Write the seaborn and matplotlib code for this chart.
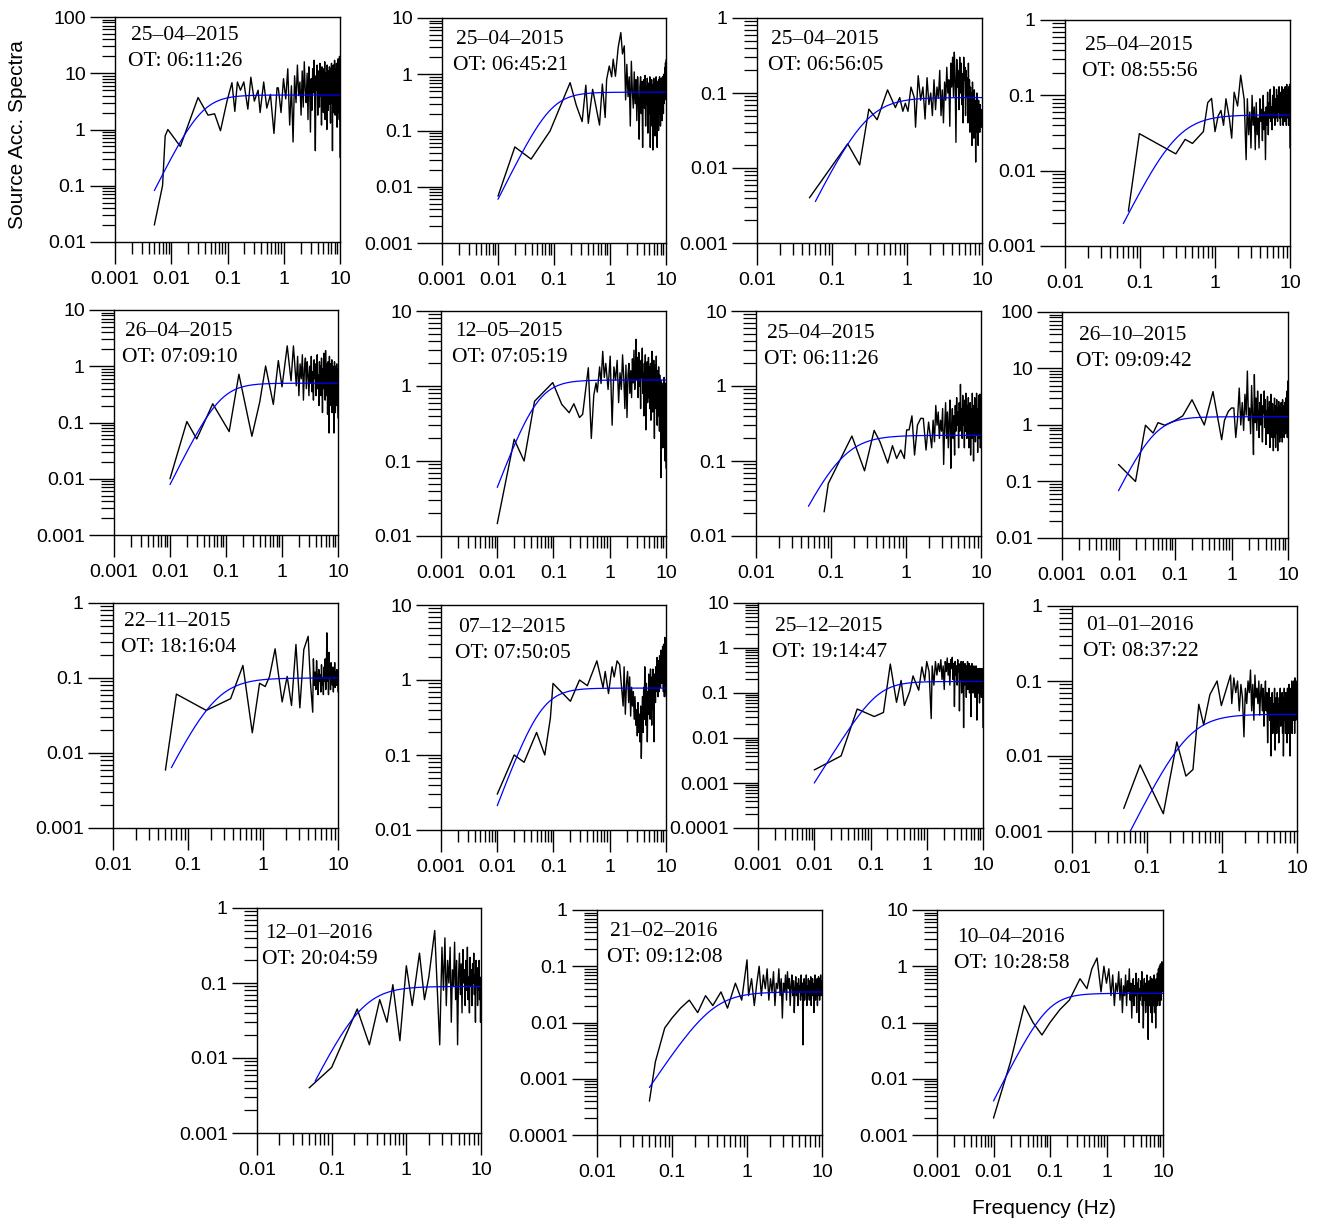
import numpy as np
import pandas as pd
import matplotlib
matplotlib.use("Agg")
import matplotlib.pyplot as plt
import seaborn as sns
from matplotlib.ticker import LogLocator, FuncFormatter, NullFormatter

sns.set_theme(style="ticks")
plt.rcParams["font.family"] = ["Liberation Sans", "DejaVu Sans"]
plt.rcParams["axes.edgecolor"] = "black"
plt.rcParams["axes.linewidth"] = 1.0
plt.rcParams["xtick.color"] = "black"
plt.rcParams["ytick.color"] = "black"
plt.rcParams["xtick.labelcolor"] = "black"
plt.rcParams["ytick.labelcolor"] = "black"
plt.rcParams["text.color"] = "black"
plt.rcParams["axes.labelcolor"] = "black"

# ---------------------------------------------------------------------------
# Event labels (date, origin time)
# ---------------------------------------------------------------------------
event_dates = ["25–04–2015", "25–04–2015", "25–04–2015", "25–04–2015",
               "26–04–2015", "12–05–2015", "25–04–2015", "26–10–2015",
               "22–11–2015", "07–12–2015", "25–12–2015", "01–01–2016",
               "12–01–2016", "21–02–2016", "10–04–2016"]
origin_times = ["06:11:26", "06:45:21", "06:56:05", "08:55:56",
                "07:09:10", "07:05:19", "06:11:26", "09:09:42",
                "18:16:04", "07:50:05", "19:14:47", "08:37:22",
                "20:04:59", "09:12:08", "10:28:58"]

# Fitted omega-square source model: high-frequency plateau and corner frequency (Hz)
plateau_levels = [4.1, 0.48, 0.087, 0.055, 0.5, 1.2, 0.22, 1.4,
                  0.1, 0.78, 0.18, 0.036, 0.09, 0.035, 0.33]
corner_freqs = [0.035, 0.089, 0.29, 0.31, 0.079, 0.051, 0.14, 0.044,
                0.23, 0.06, 0.134, 0.355, 0.25, 0.35, 0.09]
model_fmin = [0.005, 0.01, 0.06, 0.06, 0.01, 0.01, 0.05, 0.01,
              0.06, 0.01, 0.01, 0.06, 0.06, 0.05, 0.01]

# Axis ranges
x_ranges = [(1e-3, 10), (1e-3, 10), (1e-2, 10), (1e-2, 10),
            (1e-3, 10), (1e-3, 10), (1e-2, 10), (1e-3, 10),
            (1e-2, 10), (1e-3, 10), (1e-3, 10), (1e-2, 10),
            (1e-2, 10), (1e-2, 10), (1e-3, 10)]
y_ranges = [(1e-2, 100), (1e-3, 10), (1e-3, 1), (1e-3, 1),
            (1e-3, 10), (1e-2, 10), (1e-2, 10), (1e-2, 100),
            (1e-3, 1), (1e-2, 10), (1e-4, 10), (1e-3, 1),
            (1e-3, 1), (1e-4, 1), (1e-3, 10)]

# ---------------------------------------------------------------------------
# Observed source acceleration spectra.
# Low-frequency samples are (freq, amp) pairs; the high-frequency band is
# sampled on a uniform frequency grid from *_tail_f0 up to 10 Hz.
# ---------------------------------------------------------------------------
s01_f = [0.005, 0.007, 0.0078, 0.0087, 0.0145, 0.03, 0.045, 0.059, 0.075, 0.098, 0.12, 0.135,
         0.15, 0.17, 0.195, 0.23, 0.26, 0.3, 0.35, 0.38, 0.44, 0.5, 0.58, 0.67, 0.76]
s01_a = [0.02, 0.1, 0.77, 1.0, 0.5, 3.7, 1.8, 1.9, 0.95, 3.2, 6.8, 2.1,
         7.0, 5.0, 7.0, 2.3, 8.5, 3.2, 5.0, 2.0, 7.0, 2.4, 4.2, 0.85, 5.5]
s01_tail_f0 = 0.8
s01_tail = [5.5, 2.0, 8.0, 3.5, 12, 1.2, 6, 0.6, 9, 3, 14, 4, 7, 1.8, 11, 2.5, 16, 5, 3, 10,
            1.5, 13, 6, 0.9, 8, 2.2, 12, 4.5, 17, 3, 0.42, 9, 5, 14, 1.8, 11, 6, 2.5, 15, 4,
            9, 1.2, 13, 3, 7, 2, 12, 5, 16, 1.5, 10, 3.5, 8, 1, 14, 4, 11, 2.2, 9, 6,
            13, 2.8, 7, 1.3, 12, 4, 15, 3, 8, 0.42, 10, 5, 14, 2, 11, 3.5, 17, 6, 1.8, 12,
            4, 9, 2.5, 15, 5, 1.1, 13, 7, 3, 18, 2, 10, 4, 14, 1.5, 20, 6, 0.32]

s02_f = [0.01, 0.02, 0.039, 0.085, 0.194, 0.25, 0.318, 0.37, 0.41, 0.49, 0.56, 0.65,
         0.73, 0.82, 0.87, 0.97, 1.07, 1.14, 1.25, 1.4, 1.56, 1.67, 1.8, 1.9]
s02_a = [0.0068, 0.051, 0.031, 0.098, 0.71, 0.28, 0.144, 0.64, 0.134, 0.54, 0.27, 0.125,
         0.67, 0.17, 0.8, 1.4, 0.9, 1.85, 0.92, 3.0, 5.5, 2.3, 3.2, 0.35]
s02_tail_f0 = 2.0
s02_tail = [1.5, 0.4, 0.9, 0.12, 1.7, 0.5, 0.25, 1.1, 0.3, 0.8, 0.15, 0.9, 0.35, 0.07, 0.6, 0.9,
            0.2, 0.75, 0.05, 0.5, 0.8, 0.25, 0.95, 0.12, 0.6, 0.3, 0.85, 0.09, 0.45, 0.7, 0.2, 0.9,
            0.05, 0.55, 0.3, 0.8, 0.12, 0.65, 0.045, 0.4, 0.85, 0.2, 0.6, 0.08, 0.7, 0.3, 0.9, 0.15,
            0.5, 0.05, 0.75, 0.25, 0.6, 0.1, 0.8, 0.35, 0.9, 0.2, 0.5, 0.12, 0.7, 0.3, 0.85, 0.25,
            0.6, 0.15, 0.9, 0.4, 0.7, 0.2, 1.0, 0.3, 0.8, 0.5, 1.3, 0.35, 0.9, 1.6, 0.6, 1.8]

s03_f = [0.05, 0.162, 0.234, 0.31, 0.4, 0.55, 0.7, 0.8, 0.88, 0.95, 1.03, 1.13, 1.25]
s03_a = [0.004, 0.021, 0.011, 0.061, 0.044, 0.11, 0.064, 0.087, 0.057, 0.073, 0.057, 0.12, 0.087]
s03_tail_f0 = 1.3
s03_tail = [0.035, 0.17, 0.08, 0.12, 0.045, 0.16, 0.07, 0.1, 0.05, 0.15, 0.06, 0.12, 0.085, 0.2,
            0.05, 0.11, 0.04, 0.14, 0.08, 0.22, 0.1, 0.15, 0.036, 0.25, 0.12, 0.3, 0.09, 0.35,
            0.15, 0.022, 0.28, 0.12, 0.2, 0.06, 0.3, 0.1, 0.25, 0.07, 0.18, 0.04, 0.3, 0.15,
            0.22, 0.05, 0.2, 0.09, 0.16, 0.04, 0.25, 0.07, 0.15, 0.03, 0.12, 0.05, 0.1, 0.02,
            0.14, 0.06, 0.09, 0.025, 0.11, 0.04, 0.08, 0.012, 0.07, 0.03, 0.1, 0.05, 0.065, 0.02,
            0.08, 0.04, 0.06, 0.03, 0.07, 0.045, 0.055, 0.035, 0.06, 0.04]

s04_f = [0.07, 0.098, 0.3, 0.4, 0.5, 0.7, 0.8, 0.9, 1.0, 1.1, 1.2, 1.3, 1.4, 1.55, 1.67, 1.8,
         2.0, 2.2, 2.45, 2.6]
s04_a = [0.0029, 0.031, 0.0167, 0.026, 0.023, 0.033, 0.08, 0.091, 0.033, 0.053, 0.063, 0.04,
         0.09, 0.05, 0.027, 0.11, 0.072, 0.185, 0.088, 0.014]
s04_tail_f0 = 2.7
s04_tail = [0.09, 0.03, 0.06, 0.02, 0.1, 0.04, 0.07, 0.019, 0.08, 0.03, 0.05, 0.02, 0.09, 0.045,
            0.065, 0.025, 0.1, 0.035, 0.06, 0.014, 0.07, 0.04, 0.11, 0.03, 0.08, 0.05, 0.12, 0.045,
            0.07, 0.035, 0.1, 0.05, 0.13, 0.06, 0.04, 0.09, 0.05, 0.12, 0.07, 0.045, 0.1, 0.06,
            0.13, 0.05, 0.08, 0.04, 0.11, 0.07, 0.13, 0.05, 0.09, 0.04, 0.12, 0.06, 0.1, 0.045,
            0.13, 0.07, 0.09, 0.04, 0.14, 0.06, 0.1, 0.05, 0.12, 0.04, 0.13, 0.08, 0.14, 0.02]

s05_f = [0.01, 0.02, 0.03, 0.058, 0.114, 0.17, 0.29, 0.4, 0.51, 0.7, 0.86, 1.0, 1.24, 1.45, 1.6, 1.8]
s05_a = [0.01, 0.104, 0.051, 0.215, 0.069, 0.72, 0.057, 0.23, 1.01, 0.21, 1.26, 0.43, 2.3, 0.55,
         2.3, 0.45]
s05_tail_f0 = 1.9
s05_tail = [1.5, 0.3, 1.1, 0.6, 1.6, 0.25, 0.9, 1.4, 0.4, 1.2, 0.7, 0.3, 1.0, 0.5, 1.5, 0.35,
            0.8, 0.25, 1.3, 0.6, 1.1, 0.3, 0.9, 1.6, 0.4, 0.7, 0.2, 1.2, 0.5, 1.0, 0.3, 1.4,
            0.6, 0.15, 0.9, 0.4, 1.7, 0.5, 0.8, 0.25, 1.9, 0.6, 1.1, 0.3, 0.7, 0.14, 1.2, 0.45,
            0.9, 0.065, 1.5, 0.5, 0.3, 1.1, 0.2, 0.8, 0.4, 1.3, 0.15, 0.7, 0.35, 1.0, 0.25, 0.9,
            0.065, 0.6, 1.2, 0.3, 0.8, 0.15, 1.0, 0.4, 0.7, 0.2, 1.1, 0.3, 0.9, 0.5, 0.2, 0.12]

s06_f = [0.01, 0.02, 0.03, 0.046, 0.097, 0.14, 0.19, 0.23, 0.29, 0.33, 0.416, 0.47, 0.52, 0.57,
         0.6, 0.66, 0.7, 0.75, 0.8]
s06_a = [0.0146, 0.195, 0.1, 0.625, 1.11, 0.57, 0.44, 0.58, 0.38, 0.42, 1.75, 0.2, 0.75, 1.1,
         0.83, 1.8, 1.08, 2.9, 1.3]
s06_tail_f0 = 0.85
s06_tail = [2.0, 0.9, 2.5, 0.3, 1.8, 1.2, 2.2, 0.6, 1.5, 0.9, 2.6, 1.3, 0.5, 1.9, 0.38, 1.4,
            2.0, 0.8, 1.6, 0.7, 2.3, 1.1, 3.0, 0.9, 1.7, 4.2, 1.2, 2.4, 0.7, 2.8, 1.0, 1.8,
            0.5, 2.2, 1.3, 3.2, 0.8, 1.5, 0.4, 2.0, 1.1, 2.6, 0.26, 1.6, 0.9, 2.1, 0.6, 1.3,
            2.4, 0.7, 1.8, 0.5, 1.2, 2.0, 0.35, 1.5, 0.8, 2.9, 1.0, 0.45, 1.7, 0.6, 2.2, 0.9,
            0.2, 1.4, 0.7, 1.9, 0.5, 1.1, 2.5, 0.6, 1.3, 0.3, 1.6, 0.8, 1.2, 0.4, 1.8, 0.6,
            1.0, 0.25, 1.4, 0.5, 0.9, 0.3, 1.2, 0.06, 0.8, 0.4, 1.1, 0.25, 0.7, 0.15, 1.0, 0.35,
            0.6, 0.2, 0.9, 0.3, 1.3, 0.15, 0.7, 0.4, 1.1, 0.1, 0.6, 0.2, 0.3, 0.08]

s07_f = [0.081, 0.092, 0.19, 0.28, 0.376, 0.45, 0.57, 0.66, 0.75, 0.85, 0.95, 1.02, 1.1, 1.2,
         1.3, 1.42, 1.57, 1.7, 1.85, 2.0, 2.2]
s07_a = [0.021, 0.05, 0.215, 0.074, 0.256, 0.18, 0.094, 0.16, 0.108, 0.14, 0.108, 0.26, 0.26,
         0.4, 0.12, 0.3, 0.37, 0.37, 0.14, 0.33, 0.15]
s07_tail_f0 = 2.3
s07_tail = [0.35, 0.18, 0.55, 0.3, 0.45, 0.2, 0.35, 0.25, 0.5, 0.09, 0.28, 0.6, 0.2, 0.45, 0.15,
            0.35, 0.65, 0.08, 0.3, 0.5, 0.2, 0.4, 0.12, 0.55, 0.25, 0.7, 0.3, 0.45, 0.15, 0.6,
            0.25, 1.05, 0.35, 0.5, 0.2, 0.75, 0.3, 0.55, 0.15, 0.65, 0.25, 0.8, 0.4, 0.2, 0.55,
            0.3, 0.7, 0.15, 0.45, 0.25, 0.6, 0.12, 0.35, 0.5, 0.2, 0.8, 0.3, 0.45, 0.1, 0.55,
            0.25, 0.7, 0.35, 0.18, 0.6, 0.22, 0.8, 0.3, 0.5, 0.13, 0.45, 0.25, 0.75, 0.2, 0.5,
            0.3, 0.78, 0.15, 0.4, 0.2]

s08_f = [0.01, 0.02, 0.03, 0.041, 0.05, 0.066, 0.1, 0.137, 0.2, 0.33, 0.47, 0.67, 0.75, 0.88, 1.0]
s08_a = [0.2, 0.1, 0.99, 0.72, 1.1, 0.99, 1.2, 1.45, 2.8, 1.0, 3.9, 0.55, 1.2, 1.75, 2.0]
s08_tail_f0 = 1.1
s08_tail = [2.0, 0.6, 1.3, 4.5, 1.0, 2.5, 0.8, 3.5, 1.5, 9.0, 1.2, 2.0, 0.7, 5.0, 1.5, 0.3,
            7.8, 1.1, 3.0, 0.8, 4.0, 1.4, 0.6, 2.5, 1.0, 3.5, 1.2, 0.5, 2.2, 1.6, 4.0, 0.9,
            2.8, 0.45, 1.8, 1.1, 3.2, 0.7, 2.0, 0.9, 2.6, 0.4, 1.5, 3.5, 0.8, 1.9, 0.6, 2.4,
            1.2, 0.35, 1.7, 0.9, 3.0, 0.6, 1.4, 0.4, 2.2, 1.0, 2.8, 0.7, 1.6, 0.35, 2.0, 1.1,
            2.6, 0.8, 1.5, 0.5, 2.2, 1.0, 1.8, 0.6, 2.5, 1.2, 0.8, 1.9, 0.5, 2.8, 1.0, 1.6,
            0.7, 2.2, 1.3, 0.6, 1.8, 0.9, 2.5, 1.1, 0.7, 3.0, 1.2, 1.9, 0.8, 2.3, 1.0, 4.0,
            0.6, 2.0, 6.0, 0.7]

s09_f = [0.05, 0.07, 0.175, 0.37, 0.54, 0.72, 0.9, 1.07, 1.22, 1.45, 1.8, 2.1, 2.4, 2.75, 3.1,
         3.5, 4.0, 4.3, 4.6]
s09_a = [0.0059, 0.061, 0.037, 0.053, 0.147, 0.0186, 0.085, 0.077, 0.104, 0.245, 0.048, 0.105,
         0.043, 0.28, 0.04, 0.24, 0.36, 0.085, 0.035]
s09_tail_f0 = 4.7
s09_tail = [0.18, 0.08, 0.12, 0.07, 0.17, 0.1, 0.06, 0.13, 0.09, 0.11, 0.065, 0.15, 0.08, 0.1,
            0.06, 0.14, 0.09, 0.18, 0.07, 0.12, 0.4, 0.09, 0.15, 0.06, 0.22, 0.1, 0.13, 0.07,
            0.16, 0.09, 0.12, 0.08, 0.14, 0.065, 0.11, 0.09, 0.16, 0.075, 0.12, 0.1, 0.08, 0.13,
            0.09, 0.11, 0.065]

s10_f = [0.01, 0.02, 0.03, 0.05, 0.07, 0.088, 0.098, 0.2, 0.29, 0.4, 0.59, 0.76, 0.83, 0.95,
         1.1, 1.2, 1.35, 1.5, 1.73]
s10_a = [0.03, 0.1, 0.08, 0.2, 0.1, 0.31, 0.9, 0.52, 1.0, 0.84, 1.8, 0.79, 1.3, 0.66, 1.5, 1.1,
         1.8, 1.6, 0.45]
s10_tail_f0 = 1.8
s10_tail = [1.5, 0.35, 0.9, 1.3, 0.5, 1.1, 0.33, 0.8, 0.45, 0.7, 0.3, 0.6, 0.25, 0.4, 0.18, 0.5,
            0.2, 0.35, 0.15, 0.45, 0.09, 0.3, 0.6, 0.2, 0.8, 0.3, 1.5, 0.4, 0.25, 0.9, 0.5, 0.15,
            0.7, 0.35, 1.2, 0.45, 0.8, 0.3, 1.4, 0.5, 0.9, 0.25, 1.1, 0.6, 1.4, 0.4, 0.8, 0.15,
            1.2, 0.6, 1.0, 0.5, 1.5, 0.7, 1.2, 0.9, 2.0, 0.8, 1.3, 0.6, 1.8, 1.0, 1.5, 0.7,
            2.1, 1.1, 1.7, 0.8, 1.4, 2.5, 1.0, 1.8, 0.9, 2.0, 1.3, 2.8, 1.0, 1.6, 0.7, 3.0,
            1.2, 2.2, 0.6, 1.8, 3.7, 1.1, 2.5, 0.7, 3.0, 0.6]

s11_f = [0.01, 0.03, 0.058, 0.117, 0.17, 0.225, 0.29, 0.35, 0.4, 0.5, 0.57, 0.72, 0.82, 0.92,
         1.0, 1.1, 1.2]
s11_a = [0.00195, 0.004, 0.044, 0.03, 0.037, 0.44, 0.062, 0.19, 0.053, 0.11, 0.24, 0.115, 0.38,
         0.19, 0.5, 0.3, 0.027]
s11_tail_f0 = 1.25
s11_tail = [0.4, 0.15, 0.5, 0.25, 0.45, 0.3, 0.55, 0.2, 0.4, 0.12, 0.5, 0.3, 0.6, 0.25, 0.45,
            0.15, 0.55, 0.35, 0.62, 0.2, 0.45, 0.05, 0.5, 0.25, 0.4, 0.15, 0.55, 0.3, 0.45, 0.04,
            0.35, 0.2, 0.5, 0.1, 0.4, 0.25, 0.5, 0.017, 0.3, 0.15, 0.45, 0.2, 0.35, 0.08, 0.4,
            0.25, 0.5, 0.12, 0.3, 0.2, 0.45, 0.1, 0.35, 0.25, 0.4, 0.03, 0.3, 0.15, 0.45, 0.2,
            0.35, 0.1, 0.3, 0.18, 0.4, 0.12, 0.25, 0.35, 0.08, 0.3, 0.15, 0.4, 0.2, 0.3, 0.025,
            0.25, 0.12, 0.35, 0.18, 0.3, 0.1, 0.28, 0.2, 0.35, 0.06, 0.25, 0.15, 0.3, 0.1, 0.35,
            0.2, 0.27, 0.08, 0.3, 0.15, 0.35, 0.2, 0.25, 0.1, 0.017]

s12_f = [0.049, 0.081, 0.165, 0.25, 0.33, 0.41, 0.49, 0.57, 0.69, 0.86, 0.98, 1.3]
s12_a = [0.002, 0.0076, 0.0017, 0.0154, 0.0054, 0.0066, 0.049, 0.026, 0.066, 0.1, 0.047, 0.12]
s12_tail_f0 = 1.35
s12_tail = [0.05, 0.11, 0.07, 0.1, 0.04, 0.09, 0.06, 0.018, 0.08, 0.05, 0.1, 0.07, 0.14, 0.04,
            0.09, 0.03, 0.12, 0.06, 0.08, 0.05, 0.1, 0.035, 0.07, 0.09, 0.04, 0.08, 0.025, 0.06,
            0.1, 0.04, 0.07, 0.015, 0.05, 0.08, 0.03, 0.06, 0.01, 0.04, 0.07, 0.02, 0.05, 0.035,
            0.08, 0.012, 0.045, 0.06, 0.02, 0.07, 0.03, 0.05, 0.015, 0.06, 0.04, 0.08, 0.025, 0.05,
            0.03, 0.07, 0.02, 0.06, 0.01, 0.04, 0.08, 0.03, 0.06, 0.02, 0.07, 0.04, 0.05, 0.015,
            0.08, 0.03, 0.06, 0.02, 0.09, 0.04, 0.05, 0.01, 0.07, 0.03, 0.08, 0.045, 0.1, 0.02,
            0.06, 0.04, 0.09, 0.03, 0.1, 0.05, 0.07, 0.02, 0.11, 0.04, 0.08, 0.03, 0.1, 0.06,
            0.05, 0.09]

s13_f = [0.05, 0.1, 0.22, 0.32, 0.44, 0.55, 0.66, 0.82, 1.0, 1.2, 1.5, 1.75, 2.0, 2.4, 2.8]
s13_a = [0.004, 0.0075, 0.045, 0.015, 0.06, 0.03, 0.095, 0.017, 0.17, 0.05, 0.25, 0.06, 0.12,
         0.5, 0.015]
s13_tail_f0 = 3.0
s13_tail = [0.3, 0.08, 0.4, 0.05, 0.2, 0.1, 0.3, 0.03, 0.15, 0.09, 0.35, 0.06, 0.2, 0.015, 0.12,
            0.25, 0.07, 0.18, 0.04, 0.28, 0.1, 0.15, 0.05, 0.2, 0.08, 0.3, 0.06, 0.12, 0.04, 0.22,
            0.09, 0.15, 0.05, 0.18, 0.1, 0.25, 0.07, 0.13, 0.03, 0.2, 0.09, 0.16, 0.05, 0.14, 0.08,
            0.2, 0.06, 0.12, 0.03, 0.1]

s14_f = [0.05, 0.06, 0.08, 0.1, 0.13, 0.17, 0.22, 0.28, 0.35, 0.45, 0.55, 0.7, 0.85, 1.0]
s14_a = [0.0004, 0.002, 0.008, 0.012, 0.018, 0.025, 0.015, 0.03, 0.02, 0.035, 0.018, 0.05,
         0.025, 0.13]
s14_tail_f0 = 1.05
s14_tail = [0.03, 0.06, 0.02, 0.05, 0.1, 0.03, 0.07, 0.04, 0.09, 0.025, 0.06, 0.035, 0.08, 0.02,
            0.05, 0.04, 0.09, 0.03, 0.06, 0.012, 0.05, 0.035, 0.07, 0.025, 0.08, 0.04, 0.06, 0.02,
            0.045, 0.07, 0.03, 0.055, 0.015, 0.04, 0.065, 0.03, 0.05, 0.02, 0.06, 0.035, 0.045,
            0.025, 0.07, 0.03, 0.05, 0.004, 0.04, 0.06, 0.025, 0.05, 0.035, 0.07, 0.02, 0.045,
            0.03, 0.06, 0.04, 0.025, 0.055, 0.03, 0.065, 0.02, 0.05, 0.035, 0.06, 0.03, 0.045,
            0.015, 0.05, 0.035, 0.07, 0.025, 0.055, 0.04, 0.03, 0.06, 0.02, 0.05, 0.04, 0.065,
            0.03, 0.05, 0.025, 0.06, 0.04, 0.07, 0.03, 0.055, 0.035, 0.045]

s15_f = [0.01, 0.02, 0.035, 0.05, 0.072, 0.1, 0.15, 0.22, 0.34, 0.45, 0.55, 0.68, 0.8, 0.9,
         1.0, 1.1]
s15_a = [0.002, 0.02, 0.2, 0.1, 0.06, 0.1, 0.17, 0.25, 0.6, 0.4, 0.9, 1.4, 0.35, 1.0, 0.5, 0.9]
s15_tail_f0 = 1.2
s15_tail = [0.3, 0.7, 0.2, 0.5, 0.35, 0.8, 0.25, 0.6, 0.15, 0.45, 0.3, 0.7, 0.2, 0.55, 0.35,
            0.9, 0.25, 0.5, 0.12, 0.4, 0.6, 0.2, 0.45, 0.3, 0.75, 0.15, 0.5, 0.35, 0.6, 0.1,
            0.4, 0.25, 0.55, 0.3, 0.8, 0.2, 0.45, 0.08, 0.35, 0.6, 0.25, 0.5, 0.15, 0.4, 0.3,
            0.7, 0.2, 0.5, 0.05, 0.35, 0.55, 0.2, 0.45, 0.3, 0.65, 0.15, 0.4, 0.25, 0.6, 0.1,
            0.35, 0.5, 0.2, 0.45, 0.3, 0.7, 0.15, 0.4, 0.25, 0.55, 0.08, 0.35, 0.6, 0.2, 0.5,
            0.3, 0.75, 0.2, 0.45, 0.35, 0.9, 0.25, 0.55, 0.3, 1.0, 0.2, 0.6, 0.4, 1.1, 0.3,
            0.7, 0.25, 0.8, 0.45, 1.2, 0.35, 0.9, 0.5, 1.0, 0.4]

spectra = [
    (s01_f, s01_a, s01_tail_f0, s01_tail), (s02_f, s02_a, s02_tail_f0, s02_tail),
    (s03_f, s03_a, s03_tail_f0, s03_tail), (s04_f, s04_a, s04_tail_f0, s04_tail),
    (s05_f, s05_a, s05_tail_f0, s05_tail), (s06_f, s06_a, s06_tail_f0, s06_tail),
    (s07_f, s07_a, s07_tail_f0, s07_tail), (s08_f, s08_a, s08_tail_f0, s08_tail),
    (s09_f, s09_a, s09_tail_f0, s09_tail), (s10_f, s10_a, s10_tail_f0, s10_tail),
    (s11_f, s11_a, s11_tail_f0, s11_tail), (s12_f, s12_a, s12_tail_f0, s12_tail),
    (s13_f, s13_a, s13_tail_f0, s13_tail), (s14_f, s14_a, s14_tail_f0, s14_tail),
    (s15_f, s15_a, s15_tail_f0, s15_tail),
]

# ---------------------------------------------------------------------------
# Layout (pixel boxes: left, top, right, bottom) and label offsets
# ---------------------------------------------------------------------------
W, H = 1317, 1219
boxes = [(115, 17, 340, 242), (442, 18, 666, 243), (757, 18, 982, 243), (1065, 20, 1290, 246),
         (114, 310, 338, 535), (441, 311, 666, 536), (756, 311, 981, 536), (1062, 312, 1288, 538),
         (113, 603, 338, 828), (441, 605, 666, 830), (758, 603, 983, 828), (1072, 606, 1297, 831),
         (257, 908, 481, 1133), (597, 910, 822, 1135), (937, 910, 1163, 1135)]
label_offsets = [(16, 18), (14, 22), (14, 22), (20, 26), (11, 21), (14, 21), (11, 23), (17, 24),
                 (11, 19), (17, 22), (17, 24), (14, 19), (8, 26), (13, 22), (20, 27)]


def tick_text(v, pos):
    if v >= 1:
        return f"{v:.0f}"
    digits = int(round(-np.log10(v)))
    return f"{v:.{digits}f}"


fig = plt.figure(figsize=(W / 100, H / 100), dpi=100)
fig.patch.set_facecolor("white")

for i, (box, spec) in enumerate(zip(boxes, spectra)):
    l, t, r, b = box
    ax = fig.add_axes([l / W, 1 - b / H, (r - l) / W, (b - t) / H])
    low_f, low_a, tail_f0, tail_a = spec
    tail_f = np.linspace(tail_f0, 10.0, len(tail_a))
    obs = pd.DataFrame({"freq": np.concatenate([low_f, tail_f]),
                        "amp": np.concatenate([low_a, tail_a])})

    fmod = np.logspace(np.log10(model_fmin[i]), 1, 300)
    ratio = (fmod / corner_freqs[i]) ** 2
    model = pd.DataFrame({"freq": fmod, "amp": plateau_levels[i] * ratio / (1 + ratio)})

    sns.lineplot(data=obs, x="freq", y="amp", ax=ax, color="black", lw=1.0,
                 estimator=None, sort=False)
    sns.lineplot(data=model, x="freq", y="amp", ax=ax, color="#0000ff", lw=0.9,
                 estimator=None, sort=False)

    ax.set_xscale("log")
    ax.set_yscale("log")
    ax.set_xlim(*x_ranges[i])
    ax.set_ylim(*y_ranges[i])
    ax.set_xlabel("")
    ax.set_ylabel("")

    for axis in (ax.xaxis, ax.yaxis):
        axis.set_major_locator(LogLocator(base=10, numticks=12))
        axis.set_minor_locator(LogLocator(base=10, subs=np.arange(2, 10), numticks=100))
        axis.set_major_formatter(FuncFormatter(tick_text))
        axis.set_minor_formatter(NullFormatter())

    ax.tick_params(axis="x", which="major", direction="out", length=16, width=1.0,
                   pad=5, labelsize=14, labelcolor="black")
    ax.tick_params(axis="x", which="minor", direction="out", length=8.5, width=1.0)
    ax.tick_params(axis="y", which="major", direction="out", length=18, width=1.0,
                   pad=3, labelsize=14, labelcolor="black")
    ax.tick_params(axis="y", which="minor", direction="out", length=9.5, width=0.9)
    ax.tick_params(top=False, right=False)
    for sp in ax.spines.values():
        sp.set_visible(True)
        sp.set_color("black")
        sp.set_linewidth(1.0)

    dx, dy = label_offsets[i]
    pw, ph = r - l, b - t
    ax.text(dx / pw, 1 - dy / ph, event_dates[i], transform=ax.transAxes, color="black",
            ha="left", va="center", fontsize=15.5, family=["Liberation Serif", "DejaVu Serif"])
    ax.text((dx - 3) / pw, 1 - (dy + 26) / ph, "OT: " + origin_times[i], transform=ax.transAxes,
            color="black", ha="left", va="center", fontsize=15.5,
            family=["Liberation Serif", "DejaVu Serif"])

fig.text(18 / W, 1 - 135 / H, "Source Acc. Spectra", rotation=90, ha="center", va="center",
         fontsize=15, color="black")
fig.text(1044 / W, 1 - 1208 / H, "Frequency (Hz)", ha="center", va="center", fontsize=15,
         color="black")

fig.savefig("out.png", dpi=100, facecolor="white")
